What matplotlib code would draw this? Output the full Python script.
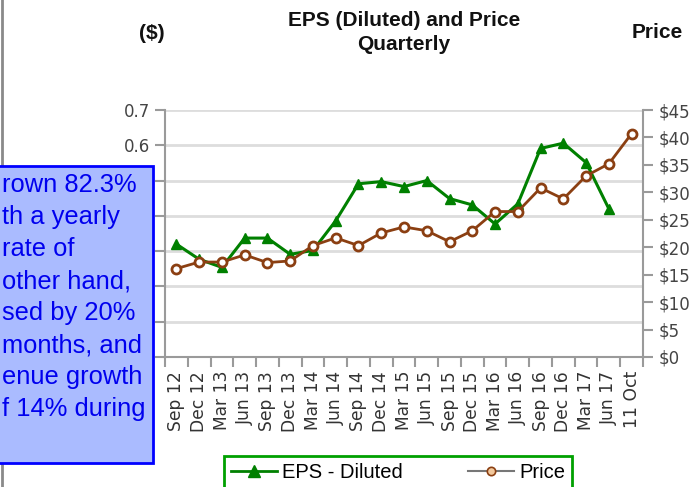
import matplotlib

matplotlib.use("Agg")

import matplotlib.pyplot as plt
from matplotlib.lines import Line2D
from matplotlib.patches import Rectangle

quarters = [
    "Sep 12", "Dec 12", "Mar 13", "Jun 13", "Sep 13", "Dec 13", "Mar 14",
    "Jun 14", "Sep 14", "Dec 14", "Mar 15", "Jun 15", "Sep 15", "Dec 15",
    "Mar 16", "Jun 16", "Sep 16", "Dec 16", "Mar 17", "Jun 17", "11 Oct",
]
eps_diluted = [
    0.32, 0.277, 0.254, 0.337, 0.337, 0.291, 0.302, 0.386, 0.491, 0.497,
    0.483, 0.50, 0.449, 0.431, 0.377, 0.434, 0.591, 0.606, 0.551, 0.42,
]
price = [
    16.1, 17.3, 17.3, 18.6, 17.2, 17.5, 20.3, 21.7, 20.3, 22.6, 23.7,
    23.0, 21.0, 23.0, 26.5, 26.5, 30.8, 28.8, 33.0, 35.2, 40.7,
]
eps_ticks = [0.0, 0.1, 0.2, 0.3, 0.4, 0.5, 0.6, 0.7]
eps_labels = ["", "", "", "", "", "", "0.6", "0.7"]  # lower ones sit behind the note box
price_ticks = [0, 5, 10, 15, 20, 25, 30, 35, 40, 45]

# what is left visible of the note box on the left edge
note_lines = [
    "rown 82.3%", "th a yearly", "rate of", "other hand,",
    "sed by 20%", "months, and", "enue growth", "f 14% during",
]

W, H = 694, 487
GREEN = "#008000"
BROWN = "#8b3f12"
AXIS_GRAY = "#9a9a9a"

fig = plt.figure(figsize=(W / 100, H / 100), dpi=100)
ax = fig.add_axes([165 / W, 1 - 357 / H, 478 / W, 247 / H])
ax2 = ax.twinx()

x = list(range(len(quarters)))
ax.plot(x[: len(eps_diluted)], eps_diluted, color=GREEN, lw=2.2, marker="^",
        markersize=7, markerfacecolor=GREEN, markeredgecolor=GREEN, zorder=3)
ax2.plot(x, price, color=BROWN, lw=2.0, marker="o", markersize=6.5,
         markerfacecolor="white", markeredgecolor=BROWN, markeredgewidth=2, zorder=3)

ax.set_xlim(-0.5, len(quarters) - 0.5)
ax.set_ylim(0, 0.7)
ax2.set_ylim(0, 45)

ax.set_yticks(eps_ticks)
ax.set_yticklabels(eps_labels)
ax2.set_yticks(price_ticks)
ax2.set_yticklabels([f"${v}" for v in price_ticks])
ax.set_xticks(x)
ax.set_xticklabels(quarters, rotation=90)
ax.set_xticks([i - 0.5 for i in range(len(quarters) + 1)], minor=True)

ax.grid(axis="y", color="#dddddd", lw=2)
ax.set_axisbelow(True)

for a in (ax, ax2):
    a.spines["top"].set_visible(False)
    for side in ("left", "right", "bottom"):
        a.spines[side].set_color(AXIS_GRAY)
        a.spines[side].set_linewidth(1.5)
ax.spines["right"].set_visible(False)
ax2.spines["left"].set_visible(False)
ax2.spines["bottom"].set_visible(False)

ax.tick_params(axis="y", length=7, width=1.5, color=AXIS_GRAY, labelsize=12,
               labelcolor="#444444", pad=4)
ax2.tick_params(axis="y", length=7, width=1.5, color=AXIS_GRAY, labelsize=12,
                labelcolor="#444444", pad=4)
ax.tick_params(axis="x", which="major", length=0, labelsize=12.3,
               labelcolor="#333333", pad=10)
ax.tick_params(axis="x", which="minor", length=7, width=1.5, color=AXIS_GRAY)

for lab in ax.get_yticklabels() + ax2.get_yticklabels() + ax.get_xticklabels():
    lab.set_fontfamily("DejaVu Sans")

title_font = dict(family="Liberation Sans", weight="bold", size=15, color="#111111")
fig.text(404 / W, 1 - 20 / H, "EPS (Diluted) and Price", ha="center", va="center", **title_font)
fig.text(404 / W, 1 - 45 / H, "Quarterly", ha="center", va="center", **title_font)
fig.text(152 / W, 1 - 33 / H, "($)", ha="center", va="center", **title_font)
fig.text(657 / W, 1 - 32 / H, "Price", ha="center", va="center", **title_font)

# thin gray rule on the far left edge
fig.add_artist(Line2D([1.5 / W, 1.5 / W], [0, 1], transform=fig.transFigure,
                      color="#8a8a8a", lw=2, zorder=5))

# note box, cut off by the left edge
fig.add_artist(Rectangle((-20 / W, 1 - 463 / H), 173 / W, 297 / H,
                         transform=fig.transFigure, facecolor="#aabbff",
                         edgecolor="#0000ff", lw=2, zorder=10))
for i, line in enumerate(note_lines):
    fig.text(2 / W, 1 - (192 + 32 * i) / H, line, ha="left", va="baseline",
             family="Liberation Sans", size=18.4, color="#0000ee", zorder=11)

handles = [
    Line2D([], [], color=GREEN, lw=2, marker="^", markersize=8,
           markerfacecolor=GREEN, markeredgecolor=GREEN),
    Line2D([], [], color="#777777", lw=1.5, marker="o", markersize=6,
           markerfacecolor="#f2c89c", markeredgecolor=BROWN, markeredgewidth=1.2),
]
leg = fig.legend(handles, ["EPS - Diluted", "Price"], loc="upper left",
                 bbox_to_anchor=(224 / W, 1 - 456 / H), ncol=2, frameon=True,
                 fancybox=False, edgecolor="#00a000", framealpha=1,
                 handlelength=2.3, columnspacing=3.2, borderpad=0.35,
                 handletextpad=0.25, borderaxespad=0,
                 prop=dict(family="Liberation Sans", size=14.5))
leg.get_frame().set_linewidth(2)

fig.savefig("out.png", dpi=100)
